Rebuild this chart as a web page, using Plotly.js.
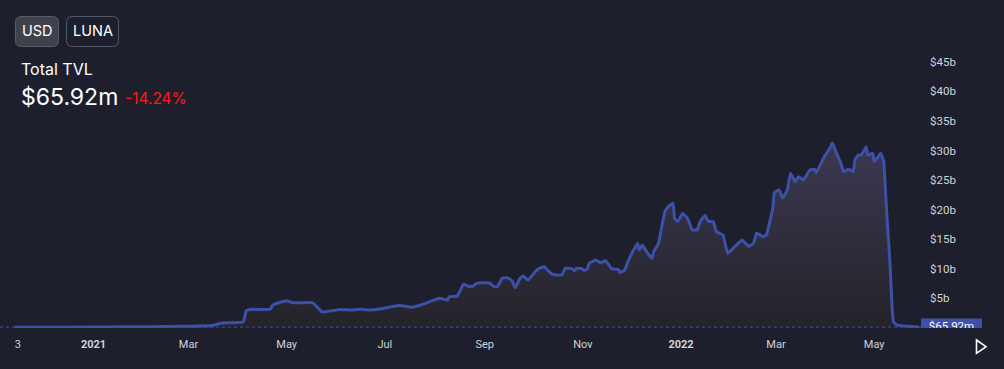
<!DOCTYPE html>
<html>
<head>
<meta charset="utf-8">
<script src="https://cdn.plot.ly/plotly-3.0.1.min.js"></script>
<style>
html,body{margin:0;padding:0;background:#1d1f2d;}
#chart{width:1004px;height:369px;}
</style>
</head>
<body>
<div id="chart"></div>
<script>
// ---- data (TVL in billions of USD) ----
const dates = [
'2020-11-13','2020-12-11','2021-01-11','2021-02-05','2021-02-24','2021-03-08','2021-03-16','2021-03-21','2021-03-27','2021-04-04',
'2021-04-06','2021-04-10','2021-04-16','2021-04-21','2021-04-22','2021-04-27','2021-05-01','2021-05-04','2021-05-09','2021-05-17',
'2021-05-20','2021-05-23','2021-05-28','2021-06-03','2021-06-09','2021-06-16','2021-06-22','2021-06-28','2021-07-02','2021-07-10',
'2021-07-18','2021-07-25','2021-07-29','2021-08-04','2021-08-09','2021-08-10','2021-08-15','2021-08-19','2021-08-22','2021-08-25',
'2021-08-27','2021-08-31','2021-09-04','2021-09-07','2021-09-09','2021-09-12','2021-09-15','2021-09-18','2021-09-20','2021-09-23',
'2021-09-25','2021-09-28','2021-10-03','2021-10-05','2021-10-08','2021-10-10','2021-10-13','2021-10-19','2021-10-21','2021-10-25',
'2021-10-27','2021-10-28','2021-10-31','2021-11-02','2021-11-04','2021-11-05','2021-11-09','2021-11-12','2021-11-15','2021-11-19',
'2021-11-23','2021-11-24','2021-11-27','2021-11-29','2021-12-02','2021-12-05','2021-12-06','2021-12-08','2021-12-11','2021-12-14',
'2021-12-15','2021-12-18','2021-12-20','2021-12-22','2021-12-24','2021-12-27','2021-12-28','2021-12-30','2022-01-02','2022-01-05',
'2022-01-08','2022-01-11','2022-01-13','2022-01-16','2022-01-18','2022-01-21','2022-01-23','2022-01-25','2022-01-27','2022-01-30',
'2022-02-02','2022-02-08','2022-02-12','2022-02-15','2022-02-17','2022-02-21','2022-02-23','2022-02-27','2022-02-28','2022-03-03',
'2022-03-05','2022-03-08','2022-03-10','2022-03-13','2022-03-15','2022-03-18','2022-03-22','2022-03-25','2022-03-26','2022-03-31',
'2022-04-04','2022-04-05','2022-04-08','2022-04-10','2022-04-12','2022-04-15','2022-04-18','2022-04-19','2022-04-21','2022-04-23',
'2022-04-26','2022-04-27','2022-04-30','2022-05-01','2022-05-05','2022-05-06','2022-05-07','2022-05-08','2022-05-09','2022-05-10',
'2022-05-11','2022-05-12','2022-05-13','2022-05-15','2022-05-17','2022-05-20','2022-05-23','2022-05-26','2022-05-29'
];
const tvl = [
0.03,0.05,0.08,0.14,0.2,0.25,0.34,0.71,0.8,0.95,
2.85,3.08,3.05,3.14,3.73,4.27,4.54,4.24,4.2,4.2,
3.47,2.63,2.8,3.05,2.97,3.08,2.97,3.14,3.36,3.73,
3.42,3.98,4.37,4.95,4.66,5.22,5.34,7.37,6.95,7.03,
7.49,7.59,7.54,6.92,6.95,8.34,8.44,7.93,6.75,8.34,
8.73,8.05,9.63,10.03,10.31,9.75,9.02,8.9,10.03,10.03,
9.58,10.03,10.03,9.63,10.03,10.88,11.44,10.98,11.32,9.92,
9.86,9.29,9.75,11.15,12.85,14.27,13.14,13.98,12.68,11.73,
12.85,14.27,17.08,19.63,20.47,21.05,18.51,17.93,19.36,18.51,
16.53,16.53,18.05,18.98,17.97,17.93,16.24,15.97,15.68,12.58,
13.34,14.83,13.73,14.27,15.97,15.39,15.68,20.2,22.85,23.31,
21.9,23.31,26.14,24.71,25.56,25.0,26.69,26.81,26.24,28.95,
30.64,31.32,29.24,28.1,26.41,26.81,26.41,28.39,29.24,29.24,
30.64,29.24,29.53,28.1,29.53,28.95,28.0,23.3,18.5,14.5,
10.0,4.0,0.9,0.42,0.34,0.25,0.2,0.12,0.066
];
const yTickVals = [5,10,15,20,25,30,35,40,45];
const yTickText = ['$5b','$10b','$15b','$20b','$25b','$30b','$35b','$40b','$45b'];
const xTickVals = ['2020-11-15','2021-01-01','2021-03-01','2021-05-01','2021-07-01','2021-09-01','2021-11-01','2022-01-01','2022-03-01','2022-05-01'];
const xTickText = ['3','<b>2021</b>','Mar','May','Jul','Sep','Nov','<b>2022</b>','Mar','May'];
const lastLabel = '$65.92m';
const changeLabel = '-14.24%';

// ---- layout helpers (pixel -> paper) ----
const W = 1004, PB = 328;
const px = x => x / W;
const py = y => (PB - y) / PB;
function rr(x0, y0, x1, y1, r) {
  const P = (x, y) => px(x) + ',' + py(y);
  return 'M' + P(x0 + r, y0) + ' L' + P(x1 - r, y0) + ' Q' + P(x1, y0) + ' ' + P(x1, y0 + r) +
    ' L' + P(x1, y1 - r) + ' Q' + P(x1, y1) + ' ' + P(x1 - r, y1) +
    ' L' + P(x0 + r, y1) + ' Q' + P(x0, y1) + ' ' + P(x0, y1 - r) +
    ' L' + P(x0, y0 + r) + ' Q' + P(x0, y0) + ' ' + P(x0 + r, y0) + ' Z';
}

const BG = '#1d1f2d';
const BLUE = '#3d51a8';
const last = tvl[tvl.length - 1];
const paneRight = 921 / W;

const traces = [
  {
    x: dates, y: tvl, type: 'scatter', mode: 'lines',
    line: {color: BLUE, width: 3, shape: 'spline', smoothing: 0.3},
    fill: 'tozeroy',
    fillgradient: {type: 'vertical', start: 0, stop: 32,
      colorscale: [[0, '#242329'], [1, '#3d3853']]},
    hoverinfo: 'skip', xaxis: 'x', yaxis: 'y'
  },
  {
    x: [0.367], y: [last], type: 'scatter', mode: 'text',
    text: [lastLabel], textposition: 'middle center',
    textfont: {family: 'Roboto', size: 11.5, color: '#ffffff'},
    cliponaxis: true, hoverinfo: 'skip', xaxis: 'x2', yaxis: 'y'
  }
];

const layout = {
  width: W, height: 369,
  margin: {l: 0, r: 0, t: 0, b: 369 - PB},
  paper_bgcolor: BG, plot_bgcolor: BG,
  showlegend: false,
  xaxis: {
    type: 'date', domain: [0, paneRight],
    range: ['2020-11-03 22:00', '2022-05-30 02:00'],
    tickvals: xTickVals, ticktext: xTickText,
    showgrid: false, zeroline: false, showline: false, ticks: '',
    tickfont: {family: 'Roboto', size: 11, color: '#d1d4dc'},
    ticklabelstandoff: 8, fixedrange: true
  },
  xaxis2: {
    domain: [paneRight, 1], range: [0, 1], anchor: 'y',
    visible: false, fixedrange: true
  },
  yaxis: {
    side: 'right', range: [-0.085, 55.5],
    tickvals: yTickVals, ticktext: yTickText,
    showgrid: false, zeroline: false, showline: false, ticks: '',
    tickfont: {family: 'Roboto', size: 11.5, color: '#d1d4dc'},
    ticklabelstandoff: 8, fixedrange: true
  },
  shapes: [
    {type: 'line', xref: 'paper', yref: 'y', x0: 0, x1: paneRight, y0: last, y1: last,
     line: {color: BLUE, width: 1, dash: 'dot'}, layer: 'above'},
    {type: 'rect', xref: 'x2', yref: 'y', x0: 0, x1: 0.735, y0: last - 1.44, y1: last + 1.44,
     fillcolor: BLUE, line: {width: 0}, layer: 'below'},
    {type: 'path', xref: 'paper', yref: 'paper', path: rr(15.5, 16.5, 58.5, 46.5, 6),
     fillcolor: '#3f424d', line: {color: '#5a5d6a', width: 1}},
    {type: 'path', xref: 'paper', yref: 'paper', path: rr(66.5, 16.5, 118.5, 46.5, 6),
     fillcolor: BG, line: {color: '#555866', width: 1}},
    {type: 'path', xref: 'paper', yref: 'paper',
     path: 'M' + px(976.5) + ',' + py(340) + ' L' + px(986) + ',' + py(346.7) + ' L' + px(976.5) + ',' + py(353.3) + ' Z',
     line: {color: '#ffffff', width: 1.6}, fillcolor: 'rgba(0,0,0,0)'}
  ],
  annotations: [
    {xref: 'paper', yref: 'paper', x: px(37), y: py(31), text: 'USD', showarrow: false,
     xanchor: 'center', yanchor: 'middle', font: {family: 'Inter', size: 14.5, color: '#ffffff'}},
    {xref: 'paper', yref: 'paper', x: px(92.5), y: py(31), text: 'LUNA', showarrow: false,
     xanchor: 'center', yanchor: 'middle', font: {family: 'Inter', size: 14.5, color: '#ffffff'}},
    {xref: 'paper', yref: 'paper', x: px(19), y: py(69), text: 'Total TVL', showarrow: false,
     xanchor: 'left', yanchor: 'middle', font: {family: 'Inter', size: 16, color: '#ffffff'}},
    {xref: 'paper', yref: 'paper', x: px(18.5), y: py(97), text: lastLabel, showarrow: false,
     xanchor: 'left', yanchor: 'middle', font: {family: 'Inter', size: 23, color: '#ffffff'}},
    {xref: 'paper', yref: 'paper', x: px(123), y: py(98.5), text: changeLabel, showarrow: false,
     xanchor: 'left', yanchor: 'middle', font: {family: 'Inter', size: 15.5, color: '#ff1a1a'}}
  ]
};

Plotly.newPlot('chart', traces, layout, {displayModeBar: false, staticPlot: true});
</script>
</body>
</html>
